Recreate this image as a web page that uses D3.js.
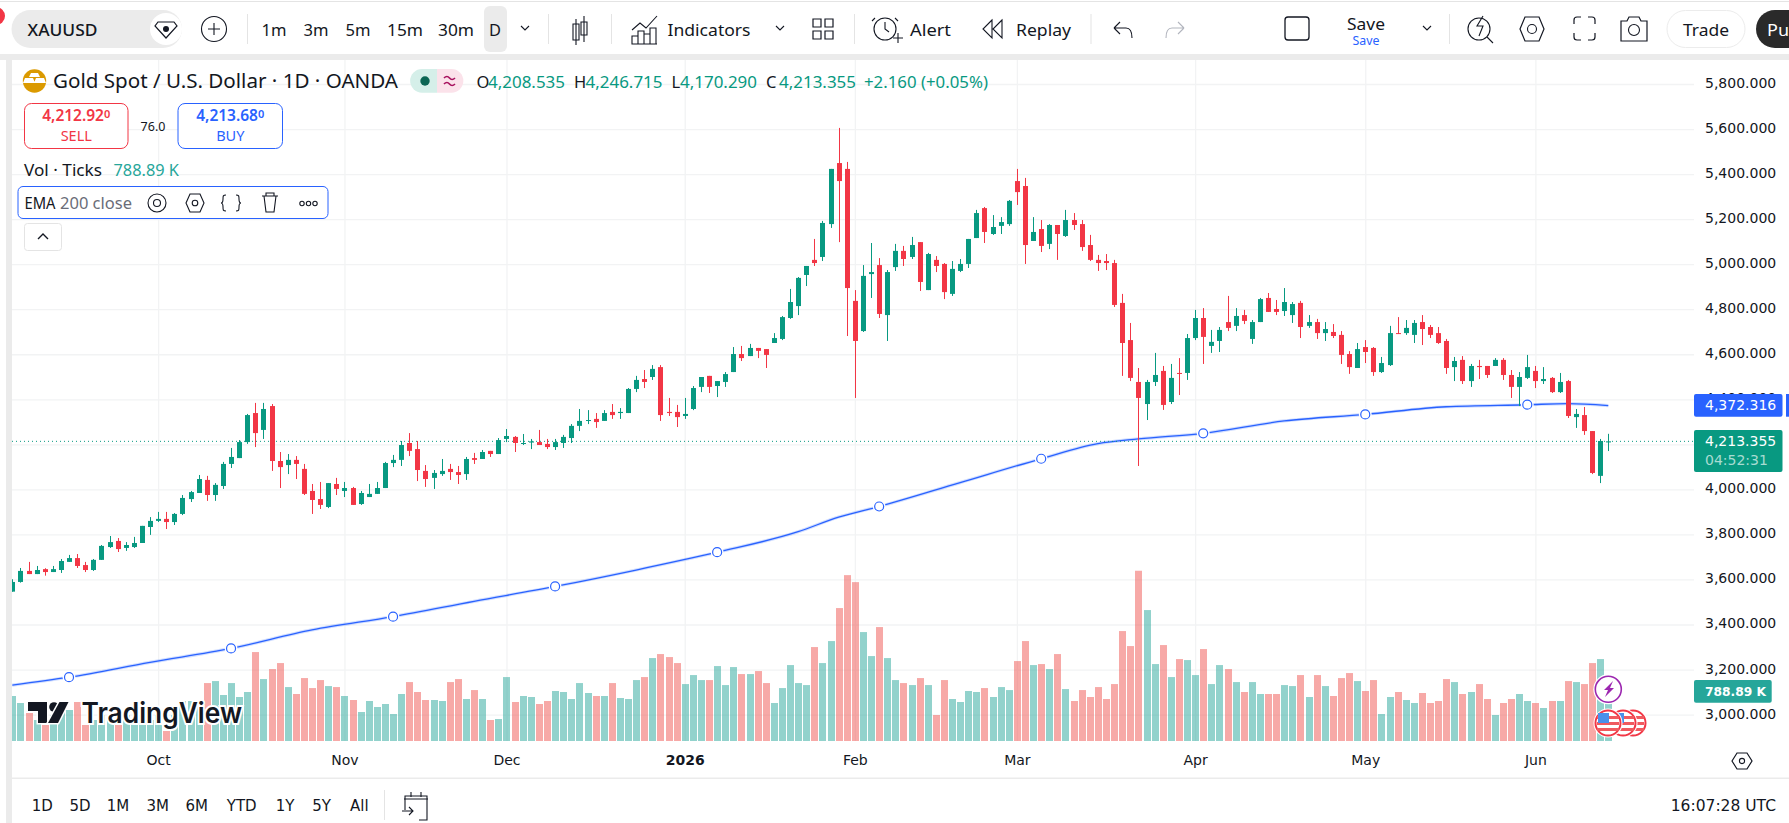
<!DOCTYPE html>
<html>
<head>
<meta charset="utf-8">
<title>XAUUSD daily chart</title>
<script src="https://cdn.jsdelivr.net/npm/d3@7/dist/d3.min.js"></script>
<style>
html,body{margin:0;padding:0;background:#fff;overflow:hidden}
svg{display:block}
.ui{font-family:"Noto Sans",sans-serif;fill:#131722}
.ax{font-family:"DejaVu Sans",sans-serif;fill:#131722}
</style>
</head>
<body>
<svg id="chart" width="1789" height="823"></svg>
<script>
// Daily OHLC, oldest bar first.
const opens = [
3546,3589,3638,3624,3646,3633,3642,3678,3695,3664,
3642,3687,3744,3771,3740,3744,3762,3833,3860,3869,
3855,3891,3957,3984,4042,3975,4015,4113,4139,4210,
4339,4264,4370,4126,4108,4131,4091,3993,3957,3922,
4024,3993,4006,3935,3966,3980,4006,4117,4131,4206,
4179,4082,4051,4068,4091,4077,4068,4139,4135,4171,
4157,4224,4233,4202,4208,4210,4202,4188,4206,4228,
4282,4304,4313,4304,4344,4339,4339,4446,4490,4499,
4543,4344,4344,4326,4357,4455,4504,4459,4477,4521,
4601,4592,4628,4623,4650,4668,4761,4814,4952,5019,
5032,5178,5449,5423,4837,4703,4956,4996,4774,4987,
5059,5032,5098,4885,5019,5001,4868,4970,5001,5116,
5249,5134,5170,5178,5369,5347,5103,5156,5090,5174,
5125,5196,5178,5085,5019,5014,5005,4828,4663,4477,
4379,4477,4526,4388,4517,4517,4672,4761,4637,4659,
4743,4726,4774,4668,4743,4850,4801,4792,4774,4828,
4726,4743,4694,4699,4686,4601,4539,4632,4628,4521,
4552,4694,4694,4686,4743,4721,4694,4659,4543,4575,
4481,4548,4548,4548,4575,4508,4455,4495,4526,4481,
4495,4432,4481,4321,4330,4259,4060,4208.535];
const highs = [
3601,3651,3678,3660,3650,3660,3691,3709,3713,3678,
3691,3753,3793,3784,3766,3789,3838,3877,3900,3900,
3895,3975,3993,4064,4060,4028,4122,4184,4219,4335,
4384,4384,4379,4166,4157,4148,4113,4024,4033,4028,
4051,4033,4011,3993,4024,4033,4122,4153,4215,4250,
4215,4108,4086,4135,4113,4104,4144,4162,4175,4171,
4228,4268,4237,4246,4224,4264,4224,4224,4242,4290,
4357,4352,4339,4352,4379,4361,4450,4504,4530,4552,
4552,4406,4375,4406,4459,4499,4504,4481,4521,4632,
4637,4646,4628,4623,4694,4770,4890,4943,4992,5112,
5192,5423,5605,5454,4885,4996,5094,5027,4974,5090,
5081,5121,5098,5050,5036,5005,5014,5023,5112,5241,
5254,5218,5209,5285,5423,5383,5209,5196,5178,5174,
5241,5227,5196,5130,5041,5045,5019,4868,4739,4539,
4486,4606,4548,4557,4583,4690,4797,4805,4708,4721,
4859,4805,4797,4752,4850,4872,4841,4894,4832,4837,
4774,4757,4743,4734,4703,4614,4650,4663,4632,4588,
4726,4765,4752,4752,4774,4730,4721,4668,4588,4592,
4557,4575,4548,4583,4583,4530,4521,4597,4548,4543,
4499,4517,4486,4357,4366,4259,4224,4246.715];
const lows = [
3546,3586,3624,3624,3617,3633,3629,3678,3651,3633,
3638,3687,3740,3722,3727,3740,3762,3798,3855,3824,
3842,3886,3944,3984,3949,3949,4002,4095,4139,4202,
4188,4224,4082,4006,4068,4046,3975,3891,3913,3917,
3975,3966,3931,3931,3966,3980,4006,4099,4104,4148,
4037,4011,4002,4060,4042,4024,4042,4113,4135,4144,
4157,4210,4166,4197,4179,4197,4179,4175,4184,4206,
4259,4290,4273,4304,4313,4313,4339,4432,4450,4486,
4304,4326,4277,4313,4352,4432,4428,4410,4455,4521,
4570,4592,4583,4539,4650,4663,4757,4774,4903,4992,
5014,5161,5098,4681,4406,4699,4850,4761,4659,4970,
4992,5023,4881,4885,4965,4845,4859,4965,4983,5116,
5094,5130,5134,5170,5263,5001,5103,5054,5067,5019,
5121,5152,5059,5014,4970,4974,4810,4504,4481,4104,
4308,4459,4353,4379,4419,4486,4663,4557,4606,4610,
4703,4703,4734,4646,4743,4788,4774,4770,4739,4672,
4717,4668,4659,4672,4557,4513,4539,4561,4504,4517,
4548,4690,4686,4650,4641,4672,4646,4513,4481,4468,
4455,4490,4495,4548,4486,4406,4370,4490,4450,4468,
4428,4428,4317,4273,4242,4068,4028,4170.290];
const closes = [
3589,3638,3624,3642,3633,3646,3682,3695,3660,3642,
3687,3749,3766,3735,3753,3762,3838,3860,3869,3855,
3891,3962,3988,4046,3975,4020,4113,4144,4210,4330,
4250,4357,4126,4099,4131,4113,3980,3953,3931,4028,
4002,4006,3931,3984,3980,4006,4117,4131,4197,4171,
4086,4046,4073,4082,4077,4064,4135,4131,4166,4157,
4219,4237,4206,4206,4213,4197,4188,4210,4233,4282,
4304,4308,4299,4339,4330,4344,4446,4486,4477,4535,
4330,4339,4321,4335,4450,4499,4455,4481,4512,4601,
4583,4628,4615,4597,4672,4765,4832,4939,4992,5005,
5183,5423,5369,4894,4659,4948,4965,4779,4965,5059,
5023,5085,4921,5045,4992,4876,4979,5001,5112,5227,
5143,5165,5187,5281,5320,5085,5143,5081,5174,5134,
5196,5174,5076,5019,5005,5005,4819,4650,4495,4406,
4477,4508,4375,4495,4513,4672,4761,4677,4655,4708,
4717,4770,4748,4743,4845,4788,4788,4832,4823,4721,
4743,4694,4712,4681,4597,4543,4623,4610,4521,4561,
4694,4690,4717,4739,4712,4686,4650,4539,4570,4481,
4548,4543,4508,4575,4508,4455,4499,4543,4481,4490,
4432,4477,4326,4335,4259,4073,4215,4213.355];
// Tick volume in thousands.
const volumes = [
720,608,448,336,256,416,496,496,624,256,
336,416,336,256,416,336,416,336,416,160,
416,640,640,656,927,959,736,927,704,784,
1423,991,1151,1247,863,752,1007,847,975,879,
863,720,656,464,640,544,592,432,752,943,
784,656,656,640,943,991,672,815,672,336,
352,1023,624,720,704,592,640,800,784,672,
927,768,720,720,927,688,672,975,1023,1327,
1391,1343,1247,911,1055,975,975,1199,895,1183,
1071,1071,1119,927,608,847,1215,927,895,1503,
1247,1599,2127,2654,2542,1743,1359,1823,1327,975,
927,895,1007,895,416,975,672,624,800,784,
847,704,863,815,1279,1599,1215,1231,1151,1391,
831,640,815,704,863,672,911,1759,1519,2724,
2095,1231,1535,1023,1311,1295,1055,1471,911,1215,
1151,943,784,943,752,752,752,895,879,1055,
704,1055,879,720,1007,1087,959,800,975,432,
704,784,656,608,768,608,640,991,943,752,
784,911,672,416,608,672,752,640,608,528,
640,640,959,943,911,1247,1311,788.89];
// EMA 200 readings at selected bars.
const emaBars   = [0,7,17,27,37,47,57,67,77,87,97,102,107,117,127,134,139,147,157,167,177,187,192,197];
const emaValues = [3131,3166,3232,3294,3376,3435,3503,3569,3642,3721,3812,3877,3924,4030,4136,4203,4224,4249,4304,4333,4367,4376,4381,4372.316];
const emaMarkerBars = [7,27,47,67,87,107,127,147,167,187];
// Calendar ticks as bar positions.
const monthLabels = ["Oct","Nov","Dec","2026","Feb","Mar","Apr","May","Jun"];
const monthBars   = [18,41,61,83,104,124,146,167,188];
const priceTicks  = [3000,3200,3400,3600,3800,4000,4200,4400,4600,4800,5000,5200,5400,5600,5800];
const rangeButtons = ["1D","5D","1M","3M","6M","YTD","1Y","5Y","All"];
const lastPrice = 4213.355, lastEma = 4372.316, lastVolume = 788.89;

const GREEN="#089981", RED="#f23645", BLUE="#2962ff", GRID="#f2f3f4", INK="#131722";
const svg = d3.select("#chart");

// Frame around the chart pane.
svg.append("rect").attr("width",1789).attr("height",823).attr("fill","#fff");
svg.append("rect").attr("y",1).attr("width",1789).attr("height",1).attr("fill","#e4e4e4");
svg.append("rect").attr("y",54).attr("width",1789).attr("height",6).attr("fill","#ebebeb");
svg.append("rect").attr("x",6).attr("y",54).attr("width",6).attr("height",769).attr("fill","#ebebeb");
svg.append("circle").attr("cx",-4).attr("cy",16).attr("r",9).attr("fill",RED);

// Scales
const xBar = d3.scaleLinear().domain([0,197]).range([12.3,1608.3]);
const yPrice = d3.scaleLinear().domain([3000,5800]).range([714.6,84]);
const yVol = d3.scaleLinear().domain([0,2724]).range([741,570.75]);
const px = v => Math.round(xBar(v));

svg.append("defs").append("clipPath").attr("id","pane").append("rect")
  .attr("x",12).attr("y",60).attr("width",1682).attr("height",681);

// Grid
const grid = svg.append("g");
grid.append("g").attr("transform","translate(1694,0)")
  .call(d3.axisLeft(yPrice).tickValues(priceTicks).tickSize(1682).tickFormat(""))
  .call(g=>g.select(".domain").remove())
  .selectAll("line").attr("stroke",GRID).attr("stroke-width",1.3);
grid.append("g").attr("transform","translate(0,741)")
  .call(d3.axisTop(xBar).tickValues(monthBars).tickSize(681).tickFormat(""))
  .call(g=>g.select(".domain").remove())
  .selectAll("line").attr("stroke",GRID).attr("stroke-width",1.3);

const pane = svg.append("g").attr("clip-path","url(#pane)");
const idx = d3.range(opens.length);

// Volume columns
pane.append("g").selectAll("rect").data(idx).join("rect")
  .attr("x",i=>px(i)-3).attr("width",7)
  .attr("y",i=>yVol(volumes[i])).attr("height",i=>741-yVol(volumes[i]))
  .attr("fill",i=>closes[i]>=opens[i]?"rgba(38,166,154,.5)":"rgba(239,83,80,.5)");

// EMA line
const emaPts = d3.zip(emaBars,emaValues);
const emaLine = d3.line().x(d=>xBar(d[0])).y(d=>yPrice(d[1])).curve(d3.curveMonotoneX);
pane.append("path").attr("d",emaLine(emaPts)).attr("fill","none")
  .attr("stroke","rgba(41,98,255,.22)").attr("stroke-width",3.2);
pane.append("path").attr("d",emaLine(emaPts)).attr("fill","none")
  .attr("stroke",BLUE).attr("stroke-width",1.3);

// Last price line
pane.append("line").attr("x1",12).attr("x2",1694)
  .attr("y1",yPrice(lastPrice)).attr("y2",yPrice(lastPrice))
  .attr("stroke",GREEN).attr("stroke-width",1).attr("stroke-dasharray","1 3");

// Candles
const candle = pane.append("g").selectAll("g").data(idx).join("g")
  .attr("fill",i=>closes[i]>=opens[i]?GREEN:RED);
candle.append("rect").attr("x",i=>px(i)).attr("width",1)
  .attr("y",i=>yPrice(highs[i])).attr("height",i=>yPrice(lows[i])-yPrice(highs[i]));
candle.append("rect").attr("x",i=>px(i)-2).attr("width",5)
  .attr("y",i=>yPrice(Math.max(opens[i],closes[i])))
  .attr("height",i=>Math.max(1,Math.abs(yPrice(opens[i])-yPrice(closes[i]))));

// EMA anchor circles, each with a white gap in the line around it
const anchors = pane.append("g").selectAll("g").data(emaMarkerBars).join("g")
  .attr("transform",i=>`translate(${xBar(i)},${yPrice(emaValues[emaBars.indexOf(i)])})`);
anchors.append("circle").attr("r",6.4).attr("fill","#fff");
anchors.append("circle").attr("r",4.5).attr("fill","#fff").attr("stroke",BLUE).attr("stroke-width",1.2);

// Price axis
const axisFmt = d3.format(",.3f");
svg.append("g").attr("transform","translate(1705,-1)")
  .call(d3.axisRight(yPrice).tickValues(priceTicks).tickSize(0).tickPadding(0).tickFormat(axisFmt))
  .call(g=>g.select(".domain").remove())
  .selectAll("text").style("font-size","14px").attr("fill",INK)
  .style("font-family",'"DejaVu Sans",sans-serif');

// Time axis
svg.append("g").attr("transform","translate(0,741)")
  .call(d3.axisBottom(xBar).tickValues(monthBars).tickSize(0).tickPadding(14.5)
        .tickFormat((d,i)=>monthLabels[i]))
  .call(g=>g.select(".domain").remove())
  .selectAll("text").style("font-size","14px").attr("fill",INK)
  .style("font-family",'"DejaVu Sans",sans-serif')
  .style("font-weight",(d,i)=>monthLabels[i]==="2026"?"700":"400");
svg.append("rect").attr("x",12).attr("y",777.5).attr("width",1777).attr("height",1.5).attr("fill","#ebebeb");

// Text helper: fitted to a given width when one is passed.
function label(x,y,str,o={}){
  const t = svg.append("text").attr("x",x).attr("y",y).text(str)
    .attr("class",o.cls||"ui").attr("dominant-baseline","central")
    .attr("text-anchor",o.anchor||"start")
    .style("font-size",(o.size||16)+"px");
  if(o.fill) t.style("fill",o.fill);
  if(o.weight) t.style("font-weight",o.weight);
  if(o.w) t.attr("textLength",o.w).attr("lengthAdjust","spacingAndGlyphs");
  return t;
}
function ico(d,o={}){
  return svg.append("path").attr("d",d).attr("fill",o.fill||"none")
    .attr("stroke",o.stroke===undefined?INK:o.stroke).attr("stroke-width",o.sw||1.1);
}

// Top toolbar
svg.append("rect").attr("x",11.5).attr("y",10).attr("width",170.5).attr("height",38).attr("rx",19).attr("fill","#ebebeb");
svg.append("circle").attr("cx",166).attr("cy",29).attr("r",16).attr("fill","#fff");
ico("M158 22h16l3 4-11 12-11-12z",{sw:1.2});
svg.append("circle").attr("cx",166).attr("cy",29).attr("r",3).attr("fill",INK);
label(27.5,29,"XAUUSD",{w:70,size:16.5,weight:500});
svg.append("circle").attr("cx",214).attr("cy",29).attr("r",12.5).attr("fill","none").attr("stroke",INK).attr("stroke-width",1.1);
ico("M208 29h12M214 23v12");
svg.append("rect").attr("x",484).attr("y",6).attr("width",23).attr("height",46).attr("rx",6).attr("fill","#ebebeb");
[["1m",274,25],["3m",316,25],["5m",358,25],["15m",405,36],["30m",456,36],["D",495,12]]
  .forEach(d=>label(d[0]==="D"?d[1]-6:d[1]-d[2]/2,29,d[0],{w:d[2],size:17}));
const chevron=(cx,cy)=>ico(`M${cx-4} ${cy-2}l4 4 4-4`);
chevron(525,28);
[247,548,611,854,1090.5,1449].forEach(x=>svg.append("rect").attr("x",x).attr("y",14).attr("width",1).attr("height",30).attr("fill","#e4e4e4"));
// candle glyph
ico("M576 19v26M576 24h-3v16h6V24zM584 16v26M584 22h-3v13h6V22z",{sw:1.1});
// indicators glyph
ico("M632 30l8-7 6 5 11-12M632 44V36h6v8zM638 44V31h6v13M644 44V34h6v10M650 44V28h6v16M632 44h25",{sw:1.1});
label(667.5,29,"Indicators",{w:83,size:17});
chevron(780,28);
// layouts glyph
ico("M813 19h8v8h-8zM825 19h8v8h-8zM813 31h8v8h-8zM825 31h8v8h-8z",{sw:1.2});
// alert glyph
svg.append("circle").attr("cx",885).attr("cy",29).attr("r",11).attr("fill","none").attr("stroke",INK).attr("stroke-width",1.1);
ico("M885 22v7l4 3M875 18l-3 3M895 18l3 3M893 38h10M898 33v10");
label(910,29,"Alert",{w:41,size:17});
ico("M992 20l-9 9 9 9zM1002 20l-9 9 9 9z",{sw:1.1});
label(1016,29,"Replay",{w:55,size:17});
ico("M1114 28h12c4 0 6 4 6 10M1114 28l6-6M1114 28l6 6",{sw:1.1});
ico("M1184 28h-12c-4 0-6 4-6 10M1184 28l-6-6M1184 28l-6 6",{stroke:"#b2b5be",sw:1.1});
svg.append("rect").attr("x",1285).attr("y",17).attr("width",24).attr("height",23).attr("rx",3).attr("fill","none").attr("stroke",INK).attr("stroke-width",1.3);
label(1366,23,"Save",{w:38,size:16.5,anchor:"middle"});
label(1366,40,"Save",{w:27,size:12.5,anchor:"middle",fill:BLUE});
chevron(1427,28);
// quick-search glyph
svg.append("circle").attr("cx",1479).attr("cy",29).attr("r",11).attr("fill","none").attr("stroke",INK).attr("stroke-width",1.1);
ico("M1487 37l6 6M1483 16l-6 10h6l-4 10",{sw:1.1});
// settings hexagon
ico("M1520 29l5-12h14l5 12-5 12h-14z",{sw:1.2});
svg.append("circle").attr("cx",1532).attr("cy",29).attr("r",4.5).attr("fill","none").attr("stroke",INK).attr("stroke-width",1.1);
// fullscreen corners
ico("M1574 24v-4a3 3 0 0 1 3-3h4M1588 17h4a3 3 0 0 1 3 3v4M1595 33v4a3 3 0 0 1-3 3h-4M1581 40h-4a3 3 0 0 1-3-3v-4",{sw:1.2});
// camera
ico("M1621 21h6l2-4h10l2 4h6v20h-26z",{sw:1.2});
svg.append("circle").attr("cx",1634).attr("cy",30).attr("r",5.5).attr("fill","none").attr("stroke",INK).attr("stroke-width",1.1);
svg.append("rect").attr("x",1667).attr("y",10.5).attr("width",78).attr("height",37).attr("rx",18.5).attr("fill","#fff").attr("stroke","#ececec");
label(1706,29,"Trade",{w:46,size:17,anchor:"middle"});
svg.append("rect").attr("x",1756).attr("y",10).attr("width",80).attr("height",38).attr("rx",19).attr("fill","#2a2a2a");
label(1767,29,"Pu",{w:22,size:17,fill:"#fff"});

// Legend
svg.append("circle").attr("cx",34.5).attr("cy",81).attr("r",11.7).attr("fill","#db9a00");
svg.append("path").attr("d","M31 73h7l2 4H29zM25 78h8l2 5H23zM36 78h8l2 5H34z").attr("fill","#fff");
label(53,81,"Gold Spot / U.S. Dollar · 1D · OANDA",{w:345,size:19});
svg.append("path").attr("d","M437 69h-15a11.8 11.8 0 0 0 0 23.7h15z").attr("fill","#d5efe9");
svg.append("path").attr("d","M437 69h14.5a11.8 11.8 0 0 1 0 23.7H437z").attr("fill","#fbe2ea");
svg.append("circle").attr("cx",425).attr("cy",81).attr("r",4.7).attr("fill","#0b6654");
ico("M444 78q3-3 5.5 0t5.5 0M444 84q3-3 5.5 0t5.5 0",{stroke:"#a8115e",sw:1.7});
[["O",476.5,488,"4,208.535"],["H",574,585.5,"4,246.715"],["L",671.5,680,"4,170.290"],["C",766,779,"4,213.355"]]
  .forEach(d=>{
    label(d[1],81,d[0],{size:16.5});
    label(d[2],81,d[3],{size:16.5,fill:GREEN,w:77});
  });
label(864,81,"+2.160 (+0.05%)",{size:16.5,fill:GREEN,w:124});

// Sell and buy tickets
function ticket(x,w,col,main,sub,word){
  svg.append("rect").attr("x",x).attr("y",103.5).attr("width",w).attr("height",45).attr("rx",7)
    .attr("fill","#fff").attr("stroke",col);
  const t=label(x+w/2,115,main,{size:15.5,fill:col,weight:600,anchor:"middle"});
  t.append("tspan").text(sub).style("font-size","11px").attr("dy",-2);
  label(x+w/2,134.5,word,{size:14.5,fill:col,anchor:"middle"});
}
ticket(24.5,103.5,RED,"4,212.92","0","SELL");
label(153,126,"76.0",{size:12.5,anchor:"middle"});
ticket(178,104.5,BLUE,"4,213.68","0","BUY");

label(24,170,"Vol · Ticks",{w:78,size:16});
label(113.5,170,"788.89 K",{w:65.5,size:16,fill:"#26a69a"});

// EMA legend row
svg.append("rect").attr("x",18).attr("y",186.5).attr("width",310).attr("height",32).attr("rx",5).attr("fill","#fff").attr("stroke",BLUE);
label(24.5,203,"EMA",{w:31,size:15.5});
label(60,203,"200 close",{w:72,size:15.5,fill:"#6a6d78"});
svg.append("circle").attr("cx",157).attr("cy",203).attr("r",9).attr("fill","none").attr("stroke",INK).attr("stroke-width",1.1);
svg.append("circle").attr("cx",157).attr("cy",203).attr("r",3.5).attr("fill","none").attr("stroke",INK).attr("stroke-width",1.1);
ico("M186 203l4-9h10l4 9-4 9h-10z");
svg.append("circle").attr("cx",195).attr("cy",203).attr("r",2.8).attr("fill","none").attr("stroke",INK).attr("stroke-width",1.1);
ico("M226 195c-3 0-3 1-3 4 0 3-1 4-2 4 1 0 2 1 2 4 0 3 0 4 3 4M236 195c3 0 3 1 3 4 0 3 1 4 2 4-1 0-2 1-2 4 0 3 0 4-3 4");
ico("M262 196h16M266 196v-3h8v3M264 196l2 16h8l2-16");
[302,308.5,315].forEach(x=>svg.append("circle").attr("cx",x).attr("cy",203.5).attr("r",2.2).attr("fill","none").attr("stroke",INK).attr("stroke-width",1.1));
svg.append("rect").attr("x",24.5).attr("y",223.5).attr("width",37).attr("height",27).attr("rx",3).attr("fill","#fff").attr("stroke","#e4e4e4");
ico("M38 239l5-5 5 5",{sw:1.4});

// Watermark
const mark = svg.append("g");
mark.append("path").attr("d","M28 702h19v21h-9v-12h-10z").attr("fill",INK).attr("stroke","#fff").attr("stroke-width",3).attr("paint-order","stroke");
mark.append("circle").attr("cx",54).attr("cy",707).attr("r",4.8).attr("fill",INK).attr("stroke","#fff").attr("stroke-width",2).attr("paint-order","stroke");
mark.append("path").attr("d","M59.5 702H68.5L58 723H48z").attr("fill",INK).attr("stroke","#fff").attr("stroke-width",3).attr("paint-order","stroke");
const wm = label(81.5,713,"TradingView",{w:160.5,size:28,fill:INK,weight:600})
  .style("font-family","Inter,sans-serif");
wm.attr("stroke","#fff").attr("stroke-width",4).attr("paint-order","stroke");

// Event markers at the latest bars
function flag(cx,cy){
  const g=svg.append("g");
  g.append("circle").attr("cx",cx).attr("cy",cy).attr("r",14.5).attr("fill","#fff");
  g.append("circle").attr("cx",cx).attr("cy",cy).attr("r",12.5).attr("fill","#fff").attr("stroke",RED).attr("stroke-width",2);
  [-6,0,6].forEach(d=>g.append("rect").attr("x",cx-11).attr("y",cy+d-1).attr("width",22).attr("height",3).attr("fill","#f05a5f"));
  g.append("rect").attr("x",cx-10).attr("y",cy-10).attr("width",11).attr("height",10).attr("fill","#4a90ea");
}
flag(1633,723);flag(1623,723);flag(1608,723);
svg.append("circle").attr("cx",1608.3).attr("cy",689.3).attr("r",15).attr("fill","#fff");
svg.append("circle").attr("cx",1608.3).attr("cy",689.3).attr("r",13).attr("fill","#fff").attr("stroke","#9c27b0").attr("stroke-width",1.6);
svg.append("path").attr("d","M1613 681l-9 9h4l-3 7 9-9h-4z").attr("fill","#9c27b0");

// Price-scale tags
function tag(y,h,col,w=88.5){
  svg.append("rect").attr("x",1694).attr("y",y).attr("width",w).attr("height",h).attr("rx",2).attr("fill",col);
}
tag(394,22.7,BLUE);
svg.append("rect").attr("x",1786).attr("y",394).attr("width",3).attr("height",22.7).attr("fill",BLUE);
label(1705,404.5,axisFmt(lastEma),{cls:"ax",size:14,fill:"#fff"});
tag(430,42,GREEN);
label(1705,440.5,axisFmt(lastPrice),{cls:"ax",size:14,fill:"#fff"});
label(1705,459.5,"04:52:31",{cls:"ax",size:14,fill:"#a8dcd2"});
tag(680,22.7,"#26a69a",77.7);
label(1705,691,lastVolume+" K",{cls:"ax",size:13,fill:"#fff",weight:700,w:61});
ico("M1732 761l5-8h10l5 8-5 8h-10z",{sw:1.2});
svg.append("circle").attr("cx",1742).attr("cy",761).attr("r",2.6).attr("fill","none").attr("stroke",INK).attr("stroke-width",1.1);

// Bottom range bar
const rangeX=[42.3,80,118,157.7,196.7,241.7,285,321.7,359.3];
rangeButtons.forEach((d,i)=>label(rangeX[i],806,d,{cls:"ax",size:15,anchor:"middle"}));
svg.append("rect").attr("x",384).attr("y",790).attr("width",1).attr("height",30).attr("fill","#e4e4e4");
ico("M404 799h24M405 810v-14h22v24h-8M411 792v5M421 792v5M402 811h11M409 807l4 4-4 4",{sw:1.1});
label(1776,806,"16:07:28 UTC",{cls:"ax",size:15.5,anchor:"end"});
</script>
</body>
</html>
